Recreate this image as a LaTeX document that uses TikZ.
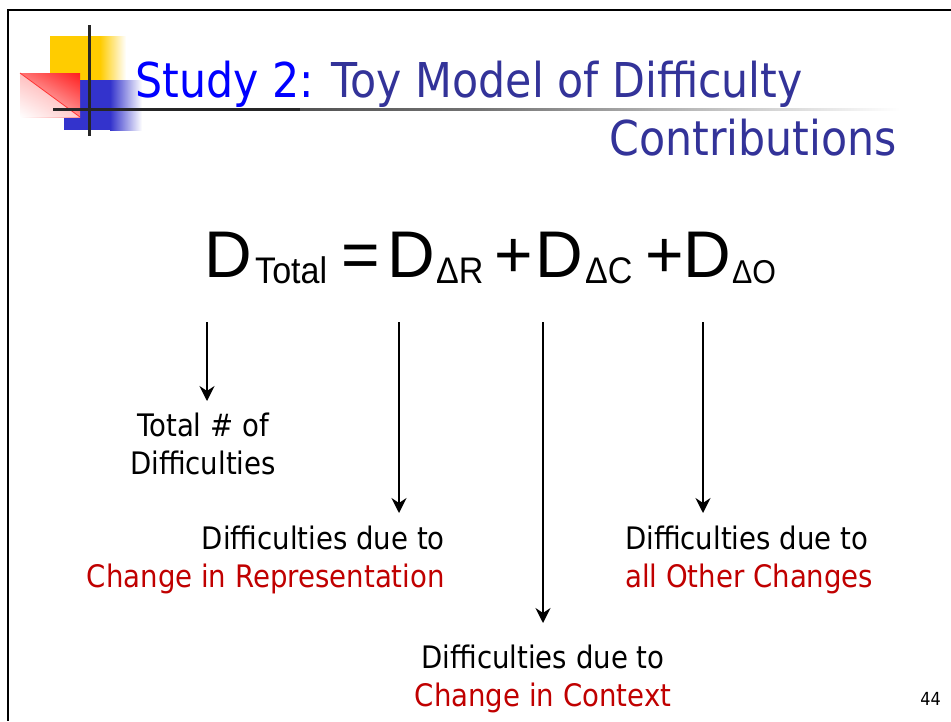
\documentclass[tikz,border=0pt]{standalone}
\usepackage{fontspec}
\usetikzlibrary{arrows.meta,shadings}
\newfontfamily\tahfont[FakeStretch=0.89]{DejaVu Sans}
\newfontfamily\arialfont{Liberation Sans}
\newfontfamily\arialsub[FakeStretch=0.92]{Liberation Sans}
\definecolor{titleblue}{RGB}{0,0,255}
\definecolor{darkblue}{RGB}{51,51,153}
\definecolor{darkred}{RGB}{192,0,0}
\definecolor{logoyellow}{RGB}{255,204,0}
\definecolor{logoblue}{RGB}{51,51,204}
\definecolor{logored}{RGB}{255,30,30}
\tikzset{
  titletext/.style={inner sep=0pt, font=\tahfont\fontsize{48}{58}\selectfont, text=darkblue},
  eqbig/.style={inner sep=0pt, anchor=base west, font=\arialfont\fontsize{66}{70}\selectfont},
  eqsub/.style={inner sep=0pt, anchor=base west, font=\arialsub\fontsize{37}{40}\selectfont},
  label/.style={inner sep=0pt, font=\tahfont\fontsize{31}{38}\selectfont},
  arr/.style={line width=2pt, -{Stealth[length=15pt,width=15pt,inset=5pt]}},
}
\begin{document}
\begin{tikzpicture}[x=1pt,y=-1pt]
\useasboundingbox (0,0) rectangle (951,721);
\fill[white] (0,0) rectangle (951,721);
% slide border
\draw[line width=2.5pt] (951,10) -- (8,10) -- (8,721);
% logo
\fill[logoyellow] (50,36) rectangle (100,80);
\shade[left color=logoyellow, right color=white] (100,36) rectangle (126,80);
\fill[logoblue] (64,80) rectangle (110,130);
\shade[left color=logoblue, right color=white] (110,80) rectangle (142,130);
\shade[upper left=red!55, upper right=logored, lower left=white, lower right=red!45] (20,73) rectangle (80,117);
\fill[white, opacity=0.55] (20,73) -- (80,117) -- (20,117) -- cycle;
\draw[red!80, line width=0.8pt] (20,73) -- (80,117);
\shade[left color=black!85, right color=white, middle color=black!55] (53,108) rectangle (900,110.5);
\fill[black!85] (53,108) rectangle (300,110.5);
\draw[line width=3pt, black!85] (89,25) -- (89,136);
% title
\node[titletext, anchor=base west] (title1) at (135,97) {\textcolor{titleblue}{Study 2:} Toy Model of Difficulty};
\node[titletext, anchor=base east] (title2) at (897,155) {Contributions};
% equation
\node[eqbig] (d1) at (204,277) {D};
\node[eqsub] (s1) at (255,283) {Total};
\node[eqbig] (eq) at (341,277) {=};
\node[eqbig] (d2) at (387,277) {D};
\node[eqsub] (s2) at (436,283) {ΔR};
\node[eqbig] (p1) at (494,277) {+};
\node[eqbig] (d3) at (535,277) {D};
\node[eqsub] (s3) at (585,283) {ΔC};
\node[eqbig] (p2) at (645,277) {+};
\node[eqbig] (d4) at (683,277) {D};
\node[eqsub, font=\arialsub\fontsize{33}{36}\selectfont] (s4) at (732,283) {ΔO};
% labels
\node[label, align=center, anchor=north] (lt) at (203,413) {Total \# of\\Difficulties};
\node[label, align=right, anchor=north east] (lr) at (445,526) {Difficulties due to\\\textcolor{darkred}{Change in Representation}};
\node[label, align=left, anchor=north west] (lo) at (625,526) {Difficulties due to\\\textcolor{darkred}{all Other Changes}};
\node[label, align=center, anchor=north] (lc) at (543,645) {Difficulties due to\\\textcolor{darkred}{Change in Context}};
\node[inner sep=0pt, anchor=base east, font=\tahfont\fontsize{18}{20}\selectfont] (pg) at (941,705) {44};
% arrows
\coordinate (a1s) at (207,322); \coordinate (a1e) at (207,401);
\coordinate (a2s) at (399,322); \coordinate (a2e) at (399,513);
\coordinate (a3s) at (543,322); \coordinate (a3e) at (543,623);
\coordinate (a4s) at (703,322); \coordinate (a4e) at (703,513);
\draw[arr] (a1s) -- (a1e);
\draw[arr] (a2s) -- (a2e);
\draw[arr] (a3s) -- (a3e);
\draw[arr] (a4s) -- (a4e);
\end{tikzpicture}
\end{document}
